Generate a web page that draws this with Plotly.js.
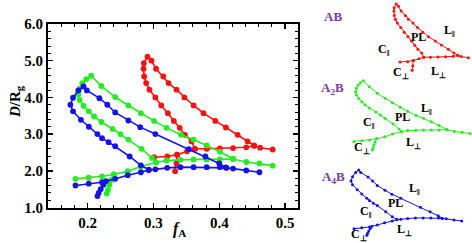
<!DOCTYPE html>
<html><head><meta charset="utf-8">
<script src="https://cdn.plot.ly/plotly-3.0.1.min.js"></script>
<style>html,body{margin:0;padding:0;background:#fff}#chart{width:472px;height:243px}</style>
</head><body><div id="chart"></div>
<script>
// ---- data (fA, D/Rg) ----
const redLoopX = [0.363,0.358,0.348,0.340,0.331,0.322,0.312,0.303,0.294,0.289,0.286,0.285,0.2855,0.291,0.297,0.304,0.315,0.323,0.335,0.347,0.361,0.376,0.394,0.410,0.428,0.443,0.453];
const redLoopY = [2.60,2.80,2.98,3.17,3.36,3.57,3.78,4.00,4.21,4.39,4.57,4.78,4.93,5.11,5.00,4.78,4.57,4.39,4.21,4.00,3.78,3.57,3.36,3.18,2.98,2.80,2.69];
const redHorizX = [0.301,0.321,0.336,0.351,0.363,0.381,0.401,0.421,0.441,0.453,0.462,0.481];
const redHorizY = [2.37,2.39,2.44,2.53,2.60,2.60,2.61,2.62,2.64,2.68,2.63,2.58];
const redShortX = [0.336,0.335,0.333];
const redShortY = [2.44,2.20,1.99];

const greenLoopX = [0.304,0.298,0.282,0.262,0.250,0.238,0.221,0.210,0.202,0.194,0.188,0.186,0.188,0.192,0.198,0.2055,0.221,0.242,0.262,0.281,0.301,0.320,0.342,0.361,0.381,0.401,0.421];
const greenLoopY = [2.23,2.35,2.60,2.85,3.00,3.14,3.33,3.48,3.62,3.77,3.93,4.08,4.24,4.39,4.50,4.59,4.31,4.01,3.78,3.57,3.36,3.17,2.98,2.85,2.69,2.52,2.33];
const greenHorizX = [0.1817,0.2018,0.222,0.240,0.261,0.281,0.304,0.320,0.341,0.361,0.381,0.401,0.421,0.441,0.461,0.481];
const greenHorizY = [1.78,1.81,1.85,1.90,1.99,2.12,2.23,2.28,2.30,2.31,2.31,2.31,2.32,2.24,2.20,2.14];
const greenShortX = [0.240,0.236,0.233,0.231,0.229];
const greenShortY = [1.90,1.75,1.62,1.48,1.38];

const blueLoopX = [0.293,0.281,0.264,0.242,0.232,0.222,0.215,0.202,0.190,0.178,0.174,0.178,0.186,0.194,0.199,0.218,0.230,0.242,0.262,0.280,0.303,0.354,0.379,0.400,0.410];
const blueLoopY = [2.03,2.15,2.39,2.67,2.78,2.89,3.00,3.20,3.39,3.62,3.80,3.99,4.19,4.30,4.19,3.98,3.80,3.59,3.37,3.19,3.00,2.59,2.39,2.20,2.09];
const blueHorizX = [0.1817,0.2018,0.222,0.242,0.261,0.281,0.293,0.303,0.321,0.341,0.361,0.381,0.401,0.411,0.421,0.441,0.461];
const blueHorizY = [1.60,1.65,1.69,1.78,1.88,1.96,2.02,2.04,2.08,2.10,2.10,2.10,2.10,2.08,2.06,2.01,1.96];
const blueShortX = [0.228,0.224,0.220,0.217,0.215];
const blueShortY = [1.72,1.62,1.50,1.40,1.31];

const xTickVals = [0.2,0.3,0.4,0.5];
const yTickVals = [1,2,3,4,5,6];
const insetNames = ['AB','A<sub>2</sub>B','A<sub>4</sub>B'];

// ---- build ----
const W = 472, H = 243;
const px = v => v / W, py = v => 1 - v / H;
const groups = [
  {color:'#ff1010', segs:[[redLoopX,redLoopY],[redHorizX,redHorizY],[redShortX,redShortY]], ax:['x2','y2']},
  {color:'#22ee22', segs:[[greenLoopX,greenLoopY],[greenHorizX,greenHorizY],[greenShortX,greenShortY]], ax:['x3','y3']},
  {color:'#1414e8', segs:[[blueLoopX,blueLoopY],[blueHorizX,blueHorizY],[blueShortX,blueShortY]], ax:['x4','y4']}
];
const traces = [];
groups.forEach(g => {
  g.segs.forEach(s => {
    traces.push({x:s[0], y:s[1], xaxis:'x', yaxis:'y', mode:'lines+markers', showlegend:false,
      line:{color:g.color, width:1.6}, marker:{color:g.color, size:5.8}, cliponaxis:false});
    traces.push({x:s[0], y:s[1], xaxis:g.ax[0], yaxis:g.ax[1], mode:'lines+markers', showlegend:false,
      line:{color:g.color, width:1}, marker:{color:g.color, size:3}, cliponaxis:false});
  });
});

const tf = {family:'Liberation Serif, Times New Roman, serif', size:15, color:'#000', weight:'bold'};
const lab = (text, x, y, size, color) => ({text, x:px(x), y:py(y), xref:'paper', yref:'paper',
  showarrow:false, xanchor:'center', yanchor:'middle',
  font:{family:'Liberation Serif, Times New Roman, serif', size:size||12, color:color||'#000', weight:'bold'}});
const purple = '#7b3aa8';
const annotations = [
  Object.assign(lab('<i>D</i>/R<sub>g</sub>', 16, 102, 15), {textangle:-90}),
  lab('<i>f</i><sub>A</sub>', 179, 229, 16),
  lab(insetNames[0], 333, 16, 13, purple),
  lab(insetNames[1], 332, 88, 13, purple),
  lab(insetNames[2], 333, 177, 13, purple),
  lab('PL', 418, 37), lab('L<sub>‖</sub>', 449, 31), lab('C<sub>‖</sub>', 384, 50), lab('C<sub>⊥</sub>', 401, 73), lab('L<sub>⊥</sub>', 438, 72),
  lab('PL', 402, 117), lab('L<sub>‖</sub>', 426, 109), lab('C<sub>‖</sub>', 369, 123), lab('C<sub>⊥</sub>', 362, 148), lab('L<sub>⊥</sub>', 413, 143),
  lab('PL', 395, 203), lab('L<sub>‖</sub>', 414, 189), lab('C<sub>‖</sub>', 366, 212), lab('C<sub>⊥</sub>', 359, 235), lab('L<sub>⊥</sub>', 404, 230)
];
const hid = (d, r, anchor) => ({domain:d, range:r, visible:false, anchor, fixedrange:true});
const layout = {
  width:W, height:H, margin:{l:0,r:0,t:0,b:0}, paper_bgcolor:'#fff', plot_bgcolor:'rgba(0,0,0,0)',
  showlegend:false,
  xaxis:{domain:[px(48), px(298.3)], range:[0.14,0.52], tickmode:'array', tickvals:xTickVals, tickformat:'.1f',
    ticks:'inside', ticklen:5, tickwidth:1.5, tickcolor:'#000', mirror:'ticks', showline:true, linewidth:2, linecolor:'#000',
    showgrid:false, zeroline:false, tickfont:tf, anchor:'y',
    minor:{tick0:0, dtick:0.02, ticks:'inside', ticklen:3, tickwidth:1, tickcolor:'#000'}},
  yaxis:{domain:[py(207.5), py(24)], range:[1,6], tickmode:'array', tickvals:yTickVals, tickformat:'.1f',
    ticks:'inside', ticklen:5, tickwidth:1.5, tickcolor:'#000', mirror:'ticks', showline:true, linewidth:2, linecolor:'#000',
    showgrid:false, zeroline:false, tickfont:tf, anchor:'x',
    minor:{tick0:0, dtick:0.2, ticks:'inside', ticklen:3, tickwidth:1, tickcolor:'#000'}},
  xaxis2:hid([px(380), 1], [0.2484,0.4905], 'y2'),
  yaxis2:hid([py(80), 1], [1.525,5.299], 'x2'),
  xaxis3:hid([px(345), 1], [0.1585,0.4861], 'y3'),
  yaxis3:hid([py(155), py(78)], [1.150,4.715], 'x3'),
  xaxis4:hid([px(345), 1], [0.1584,0.4877], 'y4'),
  yaxis4:hid([py(242), py(165)], [0.997,4.529], 'x4'),
  annotations
};
Plotly.newPlot('chart', traces, layout, {staticPlot:true, displayModeBar:false});
</script></body></html>
